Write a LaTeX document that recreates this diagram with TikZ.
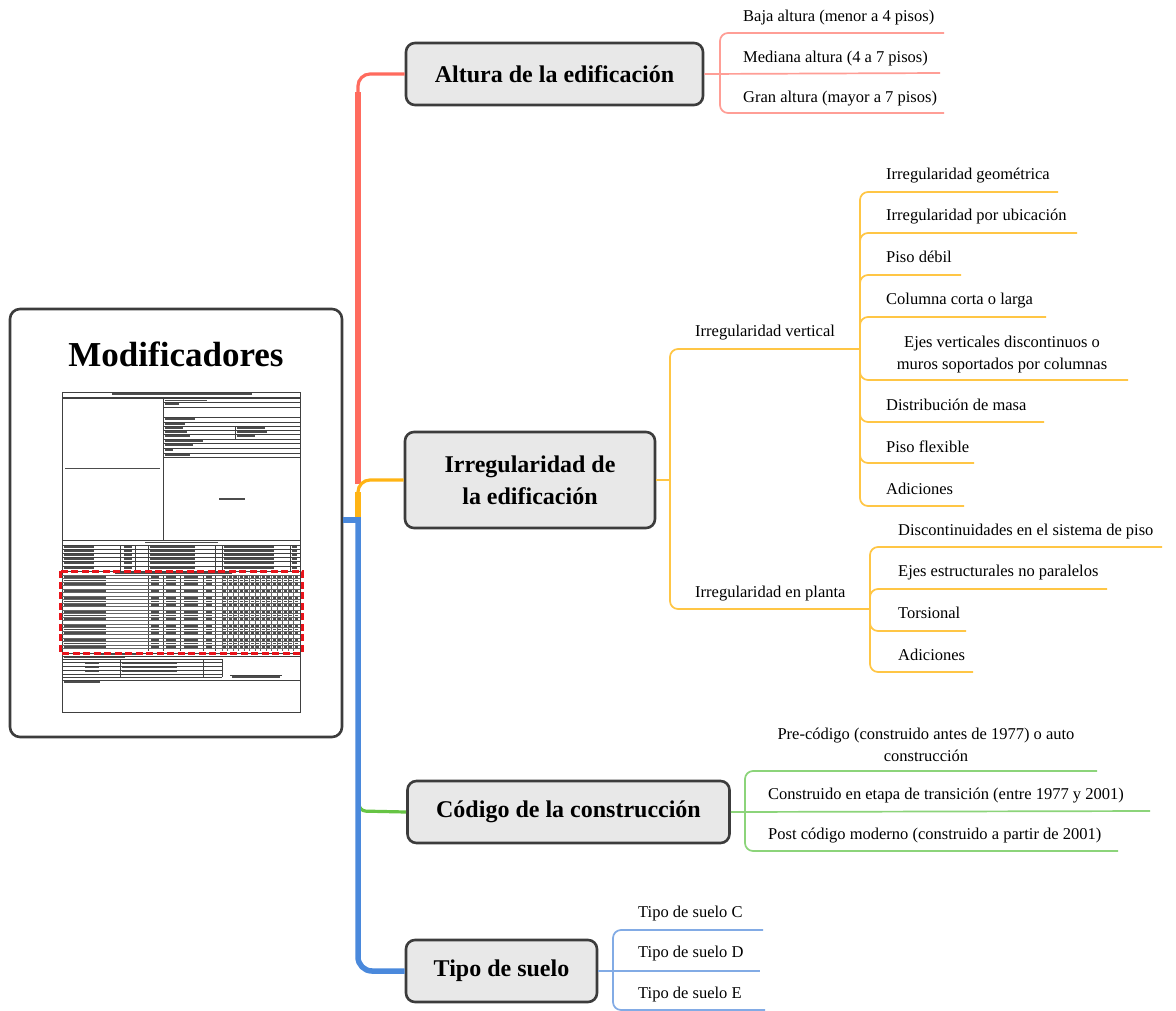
\documentclass[tikz,border=0pt]{standalone}
\usepackage{fontspec}
\setmainfont{Liberation Serif}
\usetikzlibrary{calc}

\definecolor{redbr}{HTML}{FF6B5E}
\definecolor{redlf}{HTML}{FF9E96}
\definecolor{orgbr}{HTML}{FFB414}
\definecolor{orglf}{HTML}{FFC645}
\definecolor{grnbr}{HTML}{66C444}
\definecolor{grnlf}{HTML}{8CD47A}
\definecolor{blubr}{HTML}{4A89DC}
\definecolor{blulf}{HTML}{82ABE5}
\definecolor{boxfill}{HTML}{E8E8E8}
\definecolor{boxline}{HTML}{3C3C3C}
\definecolor{markred}{HTML}{E8141B}

\tikzset{
  topic/.style={draw=boxline, line width=2.6pt, fill=boxfill, rounded corners=9pt,
    font=\fontsize{24}{32}\selectfont\bfseries, align=center, inner sep=0pt},
  rootbox/.style={draw=boxline, line width=2.6pt, fill=white, rounded corners=10pt, inner sep=0pt},
  leaf/.style={anchor=west, font=\fontsize{16.5}{22}\selectfont, inner sep=0pt,
    text height=11pt, text depth=4pt},
  leafc/.style={anchor=center, align=center, font=\fontsize{16.5}{22}\selectfont, inner sep=0pt},
  trunk/.style={line width=5.5pt},
  branch/.style={line width=3.2pt, rounded corners=12pt},
  twig/.style={line width=1.7pt, rounded corners=8pt},
  formline/.style={line width=0.5pt, draw=black!75},
  formtext/.style={fill=black!70},
}

\begin{document}
\begin{tikzpicture}[x=1pt, y=-1pt]
\useasboundingbox (0,0) rectangle (1176,1010);
\fill[white] (0,0) rectangle (1176,1010);

% ---------- central card ----------
\node[rootbox, minimum width=332pt, minimum height=428pt] (root) at (176,523) {};
\node[font=\fontsize{35}{40}\selectfont\bfseries] (title) at (176,354) {Modificadores};

% survey form thumbnail
\begin{scope}[formline]
  \draw (62,392) rectangle (300,712);
  \draw (62,397) -- (300,397);
  \draw (62,398.6) -- (300,398.6);
  \fill[formtext] (112,393.4) rectangle (252,395.4);
  % upper block: sketch cell | data rows + photo
  \draw (163,397) -- (163,540);
  \foreach \y in {402,407,417,422,426,430,434,439,443,448,453,457}
    \draw (163,\y) -- (300,\y);
  \draw[line width=0.9pt] (163,457) -- (300,457);
  \draw (235,426) -- (235,439);
  \foreach \y/\w in {399.6/42,403.3/14,418.3/30,422.8/20,426.8/18,430.8/22,434.8/25,439.8/38,443.8/28,448.8/8,453.8/25}
    \fill[formtext] (165,\y) rectangle +(\w,1.7);
  \foreach \y/\w in {426.8/28,430.8/30,434.8/18}
    \fill[formtext] (237,\y) rectangle +(\w,1.7);
  \fill[formtext] (219,497.8) rectangle (245,499.8);
  \fill[formtext] (65,467.8) rectangle (160,469.3);
  % structural system table
  \draw (62,540) -- (300,540);
  \draw (62,545) -- (300,545);
  \fill[formtext] (145,541.6) rectangle (218,543.4);
  \foreach \x in {120,135,148,215,222,290}
    \draw (\x,545) -- (\x,571);
  \foreach \y in {549,553,557,561,566}
    \draw (62,\y) -- (300,\y);
  \foreach \y in {546.3,550.3,554.3,558.3,562.3,567.3}{
    \fill[formtext] (64,\y) rectangle +(30,1.5);
    \fill[formtext] (124,\y) rectangle +(8,1.5);
    \fill[formtext] (150,\y) rectangle +(45,1.5);
    \fill[formtext] (224,\y) rectangle +(50,1.5);
    \fill[formtext] (292,\y) rectangle +(5,1.5);
  }
  % modifier table
  \draw (62,571) -- (300,571);
  \fill[formtext] (115,572.3) rectangle (232,574.3);
  \foreach \x in {148,163,180,203,215}
    \draw (\x,575) -- (\x,651);
  \foreach \x in {222,227.5,...,297}
    \draw[black!60] (\x,575) -- (\x,651);
  \foreach \y in {575,578.5,...,651}
    \draw[black!60] (62,\y) -- (300,\y);
  \foreach \y in {576,579.5,583,590,597,600.5,604,611,614.5,618,625,628.5,632,639,642.5,646}{
    \fill[formtext] (64,\y) rectangle +(42,1.6);
    \fill[formtext] (151,\y) rectangle +(8,1.6);
    \fill[formtext] (166,\y) rectangle +(10,1.6);
    \fill[formtext] (184,\y) rectangle +(14,1.6);
    \fill[formtext] (206,\y) rectangle +(6,1.6);
    \foreach \x in {223,228.5,...,296}
      \fill[formtext] (\x,\y) rectangle +(3.2,1.6);
  }
  % lower block: rating and observations
  \draw (62,653) -- (300,653);
  \draw (62,656) -- (300,656);
  \fill[formtext] (100,653.8) rectangle (140,655.4);
  \draw (62,659) -- (222,659);
  \fill[formtext] (64,656.8) rectangle (125,658.4);
  \foreach \y in {662,666,670,674,677}
    \draw (62,\y) -- (222,\y);
  \foreach \x in {120,203,222}
    \draw (\x,659) -- (\x,677);
  \foreach \y in {662.8,666.8,670.8}{
    \fill[formtext] (85,\y) rectangle +(14,1.5);
    \fill[formtext] (122,\y) rectangle +(55,1.5);
  }
  \draw (230,675) -- (282,675);
  \fill[formtext] (232,676.3) rectangle (280,677.8);
  \draw (62,680) -- (300,680);
  \fill[formtext] (64,681.3) rectangle (100,683);
\end{scope}
\draw[markred, line width=3pt, dash pattern=on 7pt off 3.5pt] (60,571) rectangle (302,653);

% ---------- main topics ----------
\node[topic, minimum width=297pt, minimum height=62pt] (altura) at (554.5,74) {Altura de la edificación};
\node[topic, minimum width=250pt, minimum height=96pt] (irreg) at (530,480) {Irregularidad de\\la edificación};
\node[topic, minimum width=322pt, minimum height=62pt] (codigo) at (568.5,812) {Código de la construcción};
\node[topic, minimum width=191pt, minimum height=62pt] (suelo) at (501.5,971) {Tipo de suelo};

% ---------- trunk ----------
\coordinate (hub) at (358,520);
\draw[grnbr, line width=3.2pt, rounded corners=7pt] (359,798) -- (359,811) -- (codigo.west);
\draw[redbr, trunk] (358,484) -- (358,92);
\draw[redbr, branch] (358,100) -- (358,74) -- (altura.west);
\draw[orgbr, trunk] (358,521) -- (358,492);
\draw[orgbr, branch] (358,500) -- (358,480) -- (irreg.west);
\draw[blubr, trunk] (root.east |- hub) -- ($(hub)+(2.75,0)$);
\draw[blubr, trunk, rounded corners=14pt] ($(hub)+(0,-2.75)$) -- (358,971) -- (suelo.west);

% ---------- Altura de la edificación ----------
\coordinate (aj) at (720,73);
\draw[redlf, twig] (altura.east) -- (940,73);
\draw[redlf, twig] (aj) -- (720,33) -- (944,33);
\draw[redlf, twig] (aj) -- (720,113) -- (944,113);
\node[leaf] (a1) at (743,18) {Baja altura (menor a 4 pisos)};
\node[leaf] (a2) at (743,59) {Mediana altura (4 a 7 pisos)};
\node[leaf] (a3) at (743,99) {Gran altura (mayor a 7 pisos)};

% ---------- Irregularidad de la edificación ----------
\coordinate (ij) at (670,480);
\draw[orglf, twig] (irreg.east) -- (ij);
\draw[orglf, twig] (ij) -- (670,349) -- (860,349);
\draw[orglf, twig] (ij) -- (670,609) -- (870,609);
\node[leaf] (iv) at (695,333) {Irregularidad vertical};
\node[leaf] (ip) at (695,594) {Irregularidad en planta};

% vertical irregularities
\coordinate (vj) at (860,349);
\foreach \y/\e in {192/1058,233/1077,275/961,317/1046,380/1128,422/1044,463/974,506/964}
  \draw[orglf, twig] (vj) -- (860,\y) -- (\e,\y);
\node[leaf] (v1) at (886,176) {Irregularidad geométrica};
\node[leaf] (v2) at (886,217) {Irregularidad por ubicación};
\node[leaf] (v3) at (886,259) {Piso débil};
\node[leaf] (v4) at (886,301) {Columna corta o larga};
\node[leafc] (v5) at (1002,355) {Ejes verticales discontinuos o\\muros soportados por columnas};
\node[leaf] (v6) at (886,407) {Distribución de masa};
\node[leaf] (v7) at (886,449) {Piso flexible};
\node[leaf] (v8) at (886,491) {Adiciones};

% plan irregularities
\coordinate (pj) at (870,609);
\foreach \y/\e in {547/1162,589/1107,631/966,672/973}
  \draw[orglf, twig] (pj) -- (870,\y) -- (\e,\y);
\node[leaf] (p1) at (898,532) {Discontinuidades en el sistema de piso};
\node[leaf] (p2) at (898,573) {Ejes estructurales no paralelos};
\node[leaf] (p3) at (898,615) {Torsional};
\node[leaf] (p4) at (898,657) {Adiciones};

% ---------- Código de la construcción ----------
\coordinate (cj) at (745,811);
\draw[grnlf, twig] (codigo.east) -- (1150,811);
\draw[grnlf, twig] (cj) -- (745,771) -- (1097,771);
\draw[grnlf, twig] (cj) -- (745,851) -- (1118,851);
\node[leafc] (c1) at (926,745) {Pre-código (construido antes de 1977) o auto\\construcción};
\node[leaf] (c2) at (768,796) {Construido en etapa de transición (entre 1977 y 2001)};
\node[leaf] (c3) at (768,836) {Post código moderno (construido a partir de 2001)};

% ---------- Tipo de suelo ----------
\coordinate (sj) at (613,971);
\draw[blulf, twig] (suelo.east) -- (760,971);
\draw[blulf, twig] (sj) -- (613,930) -- (763,930);
\draw[blulf, twig] (sj) -- (613,1010) -- (765,1010);
\node[leaf] (s1) at (638,914) {Tipo de suelo C};
\node[leaf] (s2) at (638,954) {Tipo de suelo D};
\node[leaf] (s3) at (638,995) {Tipo de suelo E};
\end{tikzpicture}
\end{document}
